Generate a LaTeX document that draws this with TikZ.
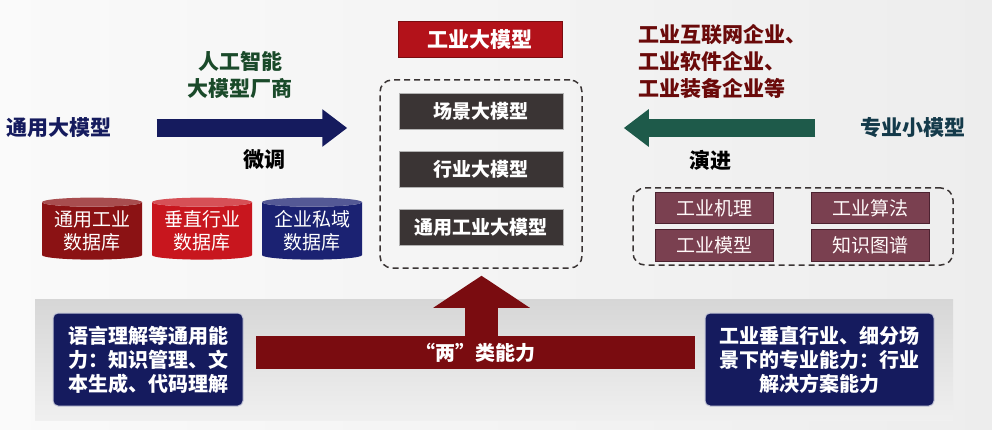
\documentclass[tikz,border=0pt]{standalone}
\usepackage{fontspec}
\setmainfont{Noto Sans CJK SC}
\usetikzlibrary{arrows.meta,shapes.geometric}
\definecolor{navy}{HTML}{151B5E}
\definecolor{darkred}{HTML}{7A0C10}
\definecolor{titlered}{HTML}{B3121A}
\definecolor{modeldark}{HTML}{3A3434}
\definecolor{mauve}{HTML}{7A4050}
\definecolor{mauvedark}{HTML}{4C2230}
\definecolor{teal}{HTML}{1E5A4A}
\definecolor{textgreen}{HTML}{1A4A2A}
\definecolor{textred}{HTML}{6A0A0A}
\definecolor{textteal}{HTML}{143A4A}
\definecolor{dbred}{HTML}{8B1214}
\definecolor{dbbright}{HTML}{C8161E}
\definecolor{dbnavy}{HTML}{1B2272}
\begin{document}
\begin{tikzpicture}[x=1pt,y=-1pt]
        \tikzstyle{lbl} = [inner sep=0pt, align=center, font=\fontsize{21}{27}\selectfont\bfseries]
        \tikzstyle{model} = [draw=gray!60, line width=0.8pt, fill=modeldark, text=white, minimum width=164pt, minimum height=36pt, font=\fontsize{19}{22}\selectfont\bfseries]
        \tikzstyle{dashframe} = [draw=modeldark, line width=1.5pt, dash pattern=on 6pt off 4pt, rounded corners=12pt]
        \tikzstyle{db} = [cylinder, shape border rotate=90, aspect=0.12, cylinder uses custom fill, text=white, minimum width=100pt, minimum height=62pt, align=center, inner sep=0pt, font=\fontsize{19}{23}\selectfont]
        \tikzstyle{skill} = [fill=mauve, draw=mauvedark, line width=1pt, minimum width=118pt, minimum height=31pt, text=white!90!pink, font=\fontsize{19}{22}\selectfont]
        \tikzstyle{ability} = [fill=navy, draw=white!75!navy, line width=1pt, rounded corners=5pt, text=white, minimum height=93pt, align=center, font=\fontsize{20}{24}\selectfont\bfseries]
        \tikzstyle{bigarrow} = [line width=18pt, -{Triangle[length=25pt,width=36pt]}]

        \useasboundingbox (0,0) rectangle (992,430);
        \shade[left color=gray!4, right color=gray!14] (0,0) rectangle (992,430);

        \node[fill=titlered, draw=darkred, line width=1pt, text=white, minimum width=164pt, minimum height=36pt, font=\fontsize{21}{24}\selectfont\bfseries] (title) at (480,40) {工业大模型};
        \node[dashframe, minimum width=202pt, minimum height=188pt] (center) at (481,174) {};
        \node[model] (scene) at (481,111) {场景大模型};
        \node[model] (industry) at (481,169) {行业大模型};
        \node[model] (general) at (481,227) {通用工业大模型};

        \node[lbl, text=navy] (tongyong) at (59,128) {通用大模型};
        \node[lbl, text=textgreen] (vendor) at (240,75) {人工智能\\大模型厂商};
        \node[lbl] (finetune) at (264,160) {微调};
        \draw[bigarrow, draw=navy, shorten <=45pt, shorten >=32pt] (tongyong.east) -- (tongyong.east -| center.west);

        \node[db, cylinder body fill=dbred, cylinder end fill=dbred!75!white] (db1) at (92,231) {通用工业\\数据库};
        \node[db, cylinder body fill=dbbright, cylinder end fill=dbbright!75!white] (db2) at (202,231) {垂直行业\\数据库};
        \node[db, cylinder body fill=dbnavy, cylinder end fill=dbnavy!75!white] (db3) at (312,231) {企业私域\\数据库};

        \node[lbl, text=textred, anchor=west, align=left] (firms) at (638,62) {工业互联网企业、\\工业软件企业、\\工业装备企业等};
        \node[lbl, text=textteal] (zhuanye) at (913,128) {专业小模型};
        \node[lbl] (evolve) at (710,160) {演进};
        \draw[bigarrow, draw=teal, shorten <=45pt, shorten >=41pt] (zhuanye.west) -- (zhuanye.west -| center.east);

        \node[dashframe, minimum width=320pt, minimum height=77pt] (tools) at (793,226.5) {};
        \node[skill] (mech) at (714,208.5) {工业机理};
        \node[skill] (algo) at (870,208.5) {工业算法};
        \node[skill] (imodel) at (714,245.5) {工业模型};
        \node[skill] (kg) at (870,245.5) {知识图谱};

        \node[top color=gray!32, bottom color=gray!12, minimum width=918pt, minimum height=121pt] (base) at (494,359.5) {};
        \node[ability, minimum width=190pt] (left) at (148,359.5) {语言理解等通用能\\力：知识管理、文\\本生成、代码理解};
        \node[ability, minimum width=229pt] (right) at (819.5,359.5) {工业垂直行业、细分场\\景下的专业能力：行业\\解决方案能力};
        \node[fill=darkred, text=white, minimum width=439pt, minimum height=33pt, font=\fontsize{20}{24}\selectfont\bfseries] (liang) at (475.5,352.5) {“两”类能力};
        \draw[line width=33pt, draw=darkred, -{Triangle[length=32pt,width=95pt]}, shorten >=7pt] ([xshift=6pt]liang.north) -- ([xshift=6pt]liang.north |- center.south);
      \end{tikzpicture}
\end{document}
